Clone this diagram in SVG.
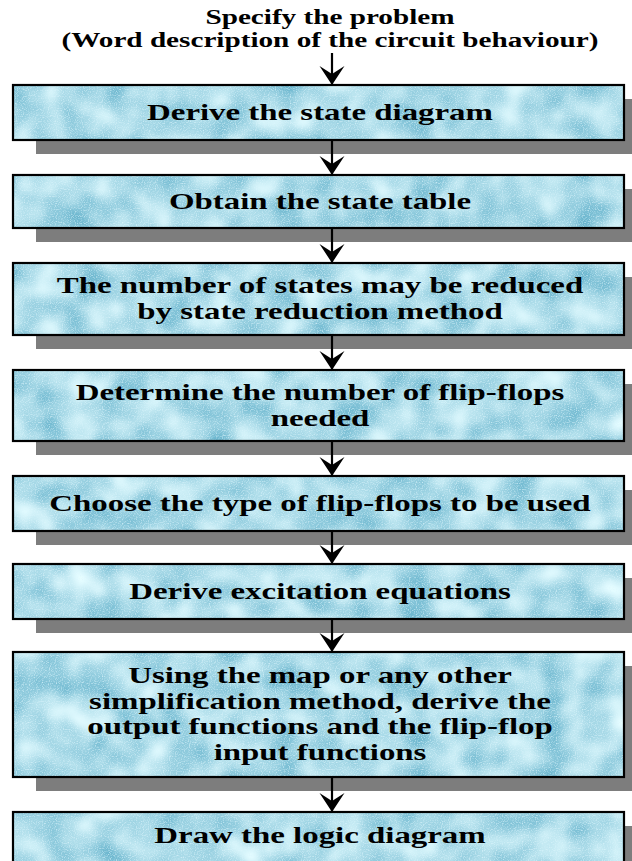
<svg xmlns="http://www.w3.org/2000/svg" width="632" height="861" viewBox="0 0 632 861">
<style>
.shadow{fill:#7d7d7d}
.box{fill:#b3e0eb;filter:url(#tex)}
.border{fill:none;stroke:#000;stroke-width:2.2}
.t{font-family:"Liberation Serif","Times New Roman",serif;font-weight:bold;font-size:24px;fill:#000;text-anchor:middle}
.title{font-family:"Liberation Serif","Times New Roman",serif;font-weight:bold;font-size:20px;fill:#000;text-anchor:middle}
.conn{stroke:#000;stroke-width:2.2;fill:none;marker-end:url(#ah)}
</style>
<defs>
<filter id="tex" x="0" y="0" width="100%" height="100%" color-interpolation-filters="sRGB">
<feTurbulence type="fractalNoise" baseFrequency="0.03" numOctaves="2" seed="11" result="n"/>
<feColorMatrix in="n" type="matrix" values="0.65 0 0 0 0.33  0.38 0 0 0 0.66  0.27 0 0 0 0.77  0 0 0 0 1" result="base"/>
<feTurbulence type="fractalNoise" baseFrequency="0.85" numOctaves="1" seed="2" result="s"/>
<feColorMatrix in="s" type="matrix" values="0 0 0 0 0.86  0 0 0 0 0.96  0 0 0 0 0.99  2.2 0 0 0 -1.05" result="speck"/>
<feComposite in="speck" in2="base" operator="over" result="tx"/>
<feComposite in="tx" in2="SourceGraphic" operator="in"/>
</filter>
<marker id="ah" viewBox="-20 -14 22 28" refX="0" refY="0" markerWidth="22" markerHeight="28" markerUnits="userSpaceOnUse" orient="auto">
<path d="M0,0 L-19,-12.5 L-11,0 L-19,12.5 Z" fill="#000"/>
</marker>
</defs>

<g id="title">
<g transform="translate(330,0) scale(1.46,1)">
<text class="title" x="0" y="24">Specify the problem</text>
<text class="title" x="0" y="47">(Word description of the circuit behaviour)</text>
</g>
</g>

<g id="n1">
<rect class="shadow" x="36" y="99" width="611" height="55"/>
<rect class="box" x="13" y="85" width="611" height="55"/>
<rect class="border" x="13" y="85" width="611" height="55"/>
<g transform="translate(320,0) scale(1.37,1)"><text class="t" x="0" y="120">Derive the state diagram</text></g>
</g>

<g id="n2">
<rect class="shadow" x="36" y="189" width="611" height="53"/>
<rect class="box" x="13" y="175" width="611" height="53"/>
<rect class="border" x="13" y="175" width="611" height="53"/>
<g transform="translate(320,0) scale(1.37,1)"><text class="t" x="0" y="209">Obtain the state table</text></g>
</g>

<g id="n3">
<rect class="shadow" x="36" y="277" width="611" height="72"/>
<rect class="box" x="13" y="263" width="611" height="72"/>
<rect class="border" x="13" y="263" width="611" height="72"/>
<g transform="translate(320,0) scale(1.37,1)">
<text class="t" x="0" y="293">The number of states may be reduced</text>
<text class="t" x="0" y="319">by state reduction method</text>
</g>
</g>

<g id="n4">
<rect class="shadow" x="36" y="384" width="611" height="71"/>
<rect class="box" x="13" y="370" width="611" height="71"/>
<rect class="border" x="13" y="370" width="611" height="71"/>
<g transform="translate(320,0) scale(1.37,1)">
<text class="t" x="0" y="400">Determine the number of flip-flops</text>
<text class="t" x="0" y="426">needed</text>
</g>
</g>

<g id="n5">
<rect class="shadow" x="36" y="490" width="611" height="55"/>
<rect class="box" x="13" y="476" width="611" height="55"/>
<rect class="border" x="13" y="476" width="611" height="55"/>
<g transform="translate(320,0) scale(1.37,1)"><text class="t" x="0" y="511">Choose the type of flip-flops to be used</text></g>
</g>

<g id="n6">
<rect class="shadow" x="36" y="578" width="611" height="55"/>
<rect class="box" x="13" y="564" width="611" height="55"/>
<rect class="border" x="13" y="564" width="611" height="55"/>
<g transform="translate(320,0) scale(1.37,1)"><text class="t" x="0" y="599">Derive excitation equations</text></g>
</g>

<g id="n7">
<rect class="shadow" x="36" y="666" width="611" height="125"/>
<rect class="box" x="13" y="652" width="611" height="125"/>
<rect class="border" x="13" y="652" width="611" height="125"/>
<g transform="translate(320,0) scale(1.37,1)">
<text class="t" x="0" y="683">Using the map or any other</text>
<text class="t" x="0" y="709">simplification method, derive the</text>
<text class="t" x="0" y="734">output functions and the flip-flop</text>
<text class="t" x="0" y="760">input functions</text>
</g>
</g>

<g id="n8">
<rect class="shadow" x="36" y="826" width="611" height="60"/>
<rect class="box" x="13" y="812" width="611" height="70"/>
<rect class="border" x="13" y="812" width="611" height="70"/>
<g transform="translate(320,0) scale(1.37,1)"><text class="t" x="0" y="843">Draw the logic diagram</text></g>
</g>

<g id="connectors">
<path class="conn" d="M332,53 V85"/>
<path class="conn" d="M332,141 V175"/>
<path class="conn" d="M332,229 V263"/>
<path class="conn" d="M332,336 V370"/>
<path class="conn" d="M332,442 V476"/>
<path class="conn" d="M332,532 V564"/>
<path class="conn" d="M332,620 V652"/>
<path class="conn" d="M332,778 V812"/>
</g>
</svg>
